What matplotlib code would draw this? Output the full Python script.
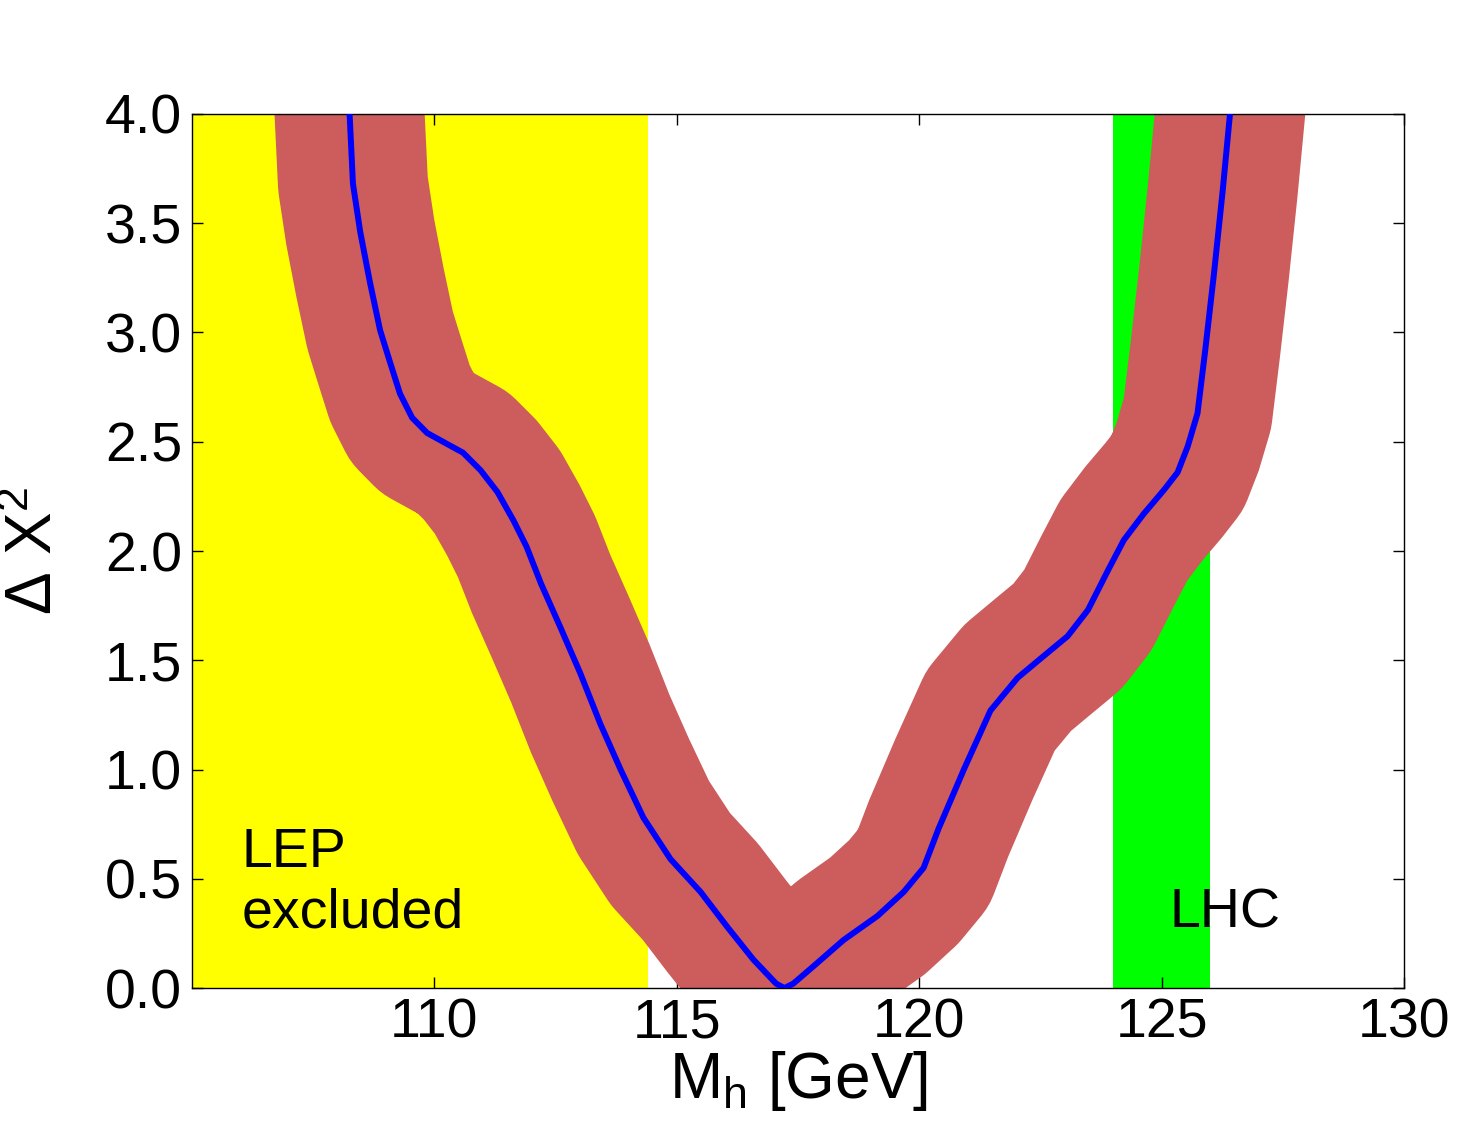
import matplotlib
matplotlib.use('Agg')
from matplotlib import pyplot as plt

plt.rcParams['font.family'] = ['Liberation Sans', 'DejaVu Sans']
plt.rcParams['mathtext.fontset'] = 'custom'
plt.rcParams['mathtext.rm'] = 'Liberation Sans'
plt.rcParams['mathtext.it'] = 'Liberation Sans'

# delta chi^2 vs Higgs mass
mh = [108.25, 108.32, 108.47, 108.67, 108.88, 109.09, 109.29, 109.54, 109.85,
      110.26, 110.59, 110.95, 111.30, 111.63, 111.90, 112.20, 112.60, 113.01,
      113.42, 113.84, 114.31, 114.87, 115.49, 116.04, 116.58, 117.05, 117.22,
      117.40, 117.82, 118.44, 119.14, 119.68, 120.09, 120.40, 120.92, 121.47,
      122.03, 122.57, 123.06, 123.48, 123.89, 124.22, 124.63, 125.05, 125.33,
      125.54, 125.74, 125.90, 126.08, 126.26, 126.41]
dchi2 = [4.00, 3.68, 3.46, 3.23, 3.01, 2.86, 2.72, 2.61, 2.54,
         2.49, 2.45, 2.37, 2.27, 2.14, 2.02, 1.85, 1.65, 1.44,
         1.21, 1.00, 0.78, 0.59, 0.44, 0.28, 0.13, 0.02, 0.00,
         0.02, 0.10, 0.22, 0.33, 0.44, 0.55, 0.73, 1.00, 1.27,
         1.42, 1.52, 1.61, 1.73, 1.91, 2.05, 2.17, 2.28, 2.36,
         2.48, 2.63, 2.92, 3.27, 3.65, 4.00]

lep_limit = 114.4
lhc_range = [124.0, 126.0]
xticks = [110, 115, 120, 125, 130]
yticks = [0.0, 0.5, 1.0, 1.5, 2.0, 2.5, 3.0, 3.5, 4.0]

fig = plt.figure(figsize=(14.77, 11.34), dpi=100)
ax = fig.add_axes([0.130, 0.1287, 0.8206, 0.7708])

ax.axvspan(105, lep_limit, color='#ffff00', lw=0, zorder=1)
ax.axvspan(lhc_range[0], lhc_range[1], color='#00ff00', lw=0, zorder=1)

# theory band drawn as a very thick stroke around the curve
ax.plot(mh, dchi2, color='#cd5c5c', lw=108, solid_joinstyle='round',
        solid_capstyle='projecting', zorder=2)
ax.plot(mh, dchi2, color='#0000ff', lw=4.3, solid_joinstyle='round', zorder=3)

ax.text(106.03, 0.279, 'LEP\nexcluded', fontsize=40, ha='left', va='baseline',
        linespacing=1.2, zorder=4)
ax.text(126.31, 0.275, 'LHC', fontsize=40, ha='center', va='baseline', zorder=4)

ax.set_xlim(105, 130)
ax.set_ylim(0, 4)
ax.set_xticks(xticks)
ax.set_yticks(yticks)
ax.set_yticklabels(['%.1f' % v for v in yticks])
ax.tick_params(direction='in', length=8, width=1, labelsize=40,
               top=True, right=True, pad=7)
for s in ax.spines.values():
    s.set_linewidth(1)

ax.set_xlabel(r'M$_{\mathrm{h}}$ [GeV]', fontsize=46)
ax.xaxis.set_label_coords(0.5, -0.07)
ax.set_ylabel(r'$\Delta$ X$^{2}$', fontsize=46)
ax.yaxis.set_label_coords(-0.105, 0.5)

fig.savefig('out.png', dpi=100, facecolor='white')
